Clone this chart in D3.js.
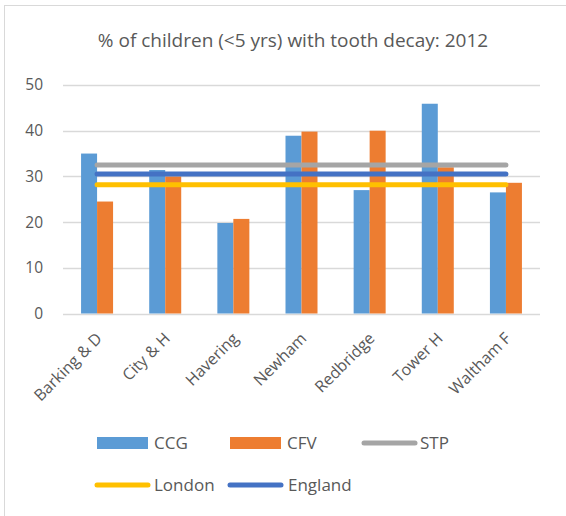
<!DOCTYPE html>
<html>
<head>
<meta charset="utf-8">
<script src="https://cdn.jsdelivr.net/npm/d3@7"></script>
<style>
  html, body { margin: 0; padding: 0; background: #fff; }
  svg { display: block; font-family: "Open Sans", sans-serif; }
</style>
</head>
<body>
<svg id="chart" width="566" height="516"></svg>
<script>
const categories = ["Barking & D", "City & H", "Havering", "Newham", "Redbridge", "Tower H", "Waltham F"];
const ccg = [35, 31.4, 19.8, 38.9, 27.0, 45.9, 26.5];
const cfv = [24.5, 30.0, 20.7, 39.8, 40.0, 32.0, 28.6];
const stp = 32.5;
const london = 28.2;
const england = 30.5;
const yTicks = [0, 10, 20, 30, 40, 50];
const title = "% of children (<5 yrs) with tooth decay: 2012";

const colors = { CCG: "#5B9BD5", CFV: "#ED7D31", STP: "#A5A5A5", London: "#FFC000", England: "#4472C4" };
const textColor = "#595959";

const svg = d3.select("#chart");
const plot = { left: 63, right: 540, top: 85, bottom: 313.5 };

// outer border
svg.append("rect").attr("x", 4.5).attr("y", 5.5).attr("width", 600).attr("height", 600)
  .attr("fill", "none").attr("stroke", "#D9D9D9").attr("stroke-width", 1);

const x = d3.scaleBand().domain(categories).range([plot.left, plot.right]).paddingInner(0).paddingOuter(0);
const y = d3.scaleLinear().domain([0, 50]).range([plot.bottom, plot.top]);
const barW = 16;

// gridlines
svg.append("g").selectAll("line").data(yTicks).join("line")
  .attr("x1", plot.left).attr("x2", plot.right)
  .attr("y1", d => Math.round(y(d)) + 0.5).attr("y2", d => Math.round(y(d)) + 0.5)
  .attr("stroke", "#D9D9D9").attr("stroke-width", 1.5);

// y axis labels
const yAxis = d3.axisLeft(y).tickValues(yTicks).tickSize(0).tickPadding(0);
const ya = svg.append("g").attr("transform", `translate(43,0)`).call(yAxis);
ya.select(".domain").remove();
ya.selectAll("text").attr("fill", textColor).style("font-size", "15.5px").style("font-family", "'Open Sans', sans-serif");

// bars
const series = [{ key: "CCG", vals: ccg, off: -barW }, { key: "CFV", vals: cfv, off: 0 }];
series.forEach(s => {
  svg.append("g").selectAll("rect").data(categories).join("rect")
    .attr("x", (c) => x(c) + x.bandwidth() / 2 + s.off)
    .attr("width", barW)
    .attr("y", (c, i) => y(s.vals[i]))
    .attr("height", (c, i) => y(0) - y(s.vals[i]))
    .attr("fill", colors[s.key]);
});

// reference lines
const x0 = x(categories[0]) + x.bandwidth() / 2;
const x1 = x(categories[categories.length - 1]) + x.bandwidth() / 2;
[["STP", stp], ["England", england], ["London", london]].forEach(([k, v]) => {
  svg.append("line").attr("x1", x0).attr("x2", x1).attr("y1", y(v)).attr("y2", y(v))
    .attr("stroke", colors[k]).attr("stroke-width", 5).attr("stroke-linecap", "round");
});

// x labels
svg.append("g").selectAll("text").data(categories).join("text")
  .attr("transform", c => `translate(${x(c) + x.bandwidth() / 2 + 6},${plot.bottom + 26}) rotate(-45)`)
  .attr("text-anchor", "end")
  .attr("fill", textColor).style("font-size", "16px")
  .text(c => c);

// title
svg.append("text").attr("x", 293).attr("y", 47).attr("text-anchor", "middle")
  .attr("fill", textColor).style("font-size", "19px").text(title);

// legend
const leg = svg.append("g");
const legItems = [
  { key: "CCG", type: "rect", x: 97, y: 443, tx: 154 },
  { key: "CFV", type: "rect", x: 230, y: 443, tx: 287 },
  { key: "STP", type: "line", x: 362, y: 443, tx: 420 },
  { key: "London", type: "line", x: 95, y: 485, tx: 154 },
  { key: "England", type: "line", x: 228, y: 485, tx: 288 }
];
legItems.forEach(it => {
  if (it.type === "rect") {
    leg.append("rect").attr("x", it.x).attr("y", it.y - 6).attr("width", 51).attr("height", 12).attr("fill", colors[it.key]);
  } else {
    leg.append("line").attr("x1", it.x + 2).attr("x2", it.x + 53).attr("y1", it.y).attr("y2", it.y)
      .attr("stroke", colors[it.key]).attr("stroke-width", 5).attr("stroke-linecap", "round");
  }
  leg.append("text").attr("x", it.tx).attr("y", it.y).attr("dy", "0.36em")
    .attr("fill", textColor).style("font-size", "17px").text(it.key);
});
</script>
</body>
</html>
